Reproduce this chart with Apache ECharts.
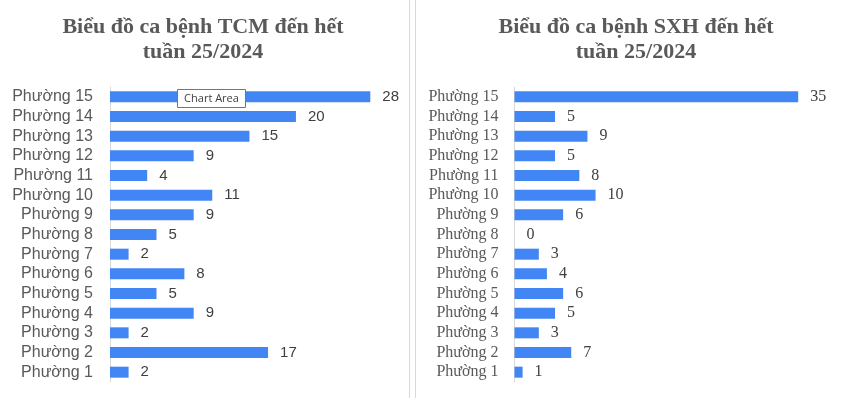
<!DOCTYPE html>
<html>
<head>
<meta charset="utf-8">
<script src="https://cdn.jsdelivr.net/npm/echarts@6/dist/echarts.min.js"></script>
<style>
  html, body { margin: 0; padding: 0; background: #fff; }
  #chart { width: 853px; height: 398px; }
</style>
</head>
<body>
<div id="chart"></div>
<script>
const wards = ['Phường 1', 'Phường 2', 'Phường 3', 'Phường 4', 'Phường 5', 'Phường 6', 'Phường 7', 'Phường 8',
  'Phường 9', 'Phường 10', 'Phường 11', 'Phường 12', 'Phường 13', 'Phường 14', 'Phường 15']
const tcmCases = [2, 17, 2, 9, 5, 8, 2, 5, 9, 11, 4, 9, 15, 20, 28]
const sxhCases = [1, 7, 3, 5, 6, 4, 3, 0, 6, 10, 8, 5, 9, 5, 35]
const tcmTitle = 'Biểu đồ ca bệnh TCM đến hết\ntuần 25/2024'
const sxhTitle = 'Biểu đồ ca bệnh SXH đến hết\ntuần 25/2024'

const BAR = '#4285f4'
const AXIS = '#d9d9d9'
const SANS = '"Liberation Sans", Arial, sans-serif'
const SERIF = '"Liberation Serif", "Times New Roman", serif'

const titleStyle = {
  fontFamily: SERIF,
  fontWeight: 'bold',
  fontSize: 22,
  lineHeight: 25,
  color: '#595959'
}

function catAxis(gridIndex, font, margin) {
  return {
    type: 'category',
    gridIndex: gridIndex,
    data: wards,
    axisLine: { show: true, lineStyle: { color: AXIS, width: 1 } },
    axisTick: { show: false },
    axisLabel: { interval: 0, fontFamily: font, fontSize: 16, color: '#595959', margin: margin },
    splitLine: { show: false }
  }
}

function barSeries(idx, data, font) {
  return {
    type: 'bar',
    xAxisIndex: idx,
    yAxisIndex: idx,
    data: data,
    barWidth: 11,
    itemStyle: { color: BAR },
    label: {
      show: true,
      position: 'right',
      distance: 12,
      fontFamily: font,
      fontSize: idx === 0 ? 15 : 16,
      color: '#404040'
    },
    animation: false
  }
}

const chart = echarts.init(document.getElementById('chart'))
chart.setOption({
  animation: false,
  title: [
    { text: tcmTitle, left: 198, top: 10, textAlign: 'center', textStyle: titleStyle },
    { text: sxhTitle, left: 631, top: 10, textAlign: 'center', textStyle: titleStyle }
  ],
  grid: [
    { left: 110, top: 87, width: 278.9, height: 295 },
    { left: 514.5, top: 87, width: 283.7, height: 295 }
  ],
  xAxis: [
    { type: 'value', gridIndex: 0, min: 0, max: 30, show: false, splitLine: { show: false } },
    { type: 'value', gridIndex: 1, min: 0, max: 35, show: false, splitLine: { show: false } }
  ],
  yAxis: [catAxis(0, SANS, 17), catAxis(1, SERIF, 16)],
  series: [barSeries(0, tcmCases, SANS), barSeries(1, sxhCases, SERIF)],
  graphic: [
    // chart frame edges
    { type: 'line', shape: { x1: 409.5, y1: 0, x2: 409.5, y2: 398 }, style: { stroke: AXIS, lineWidth: 1 } },
    { type: 'line', shape: { x1: 415.5, y1: 0, x2: 415.5, y2: 398 }, style: { stroke: AXIS, lineWidth: 1 } },
    // hover hint box
    {
      type: 'rect', z: 100, zlevel: 1,
      shape: { x: 177.5, y: 89.5, width: 68, height: 18 },
      style: { fill: '#fff', stroke: '#767676', lineWidth: 1 }
    },
    {
      type: 'text', z: 101, zlevel: 1, x: 211.5, y: 99,
      style: { text: 'Chart Area', fontFamily: '"Open Sans", "Noto Sans", sans-serif', fontSize: 11, fill: '#404040', align: 'center', verticalAlign: 'middle' }
    }
  ]
})
</script>
</body>
</html>
